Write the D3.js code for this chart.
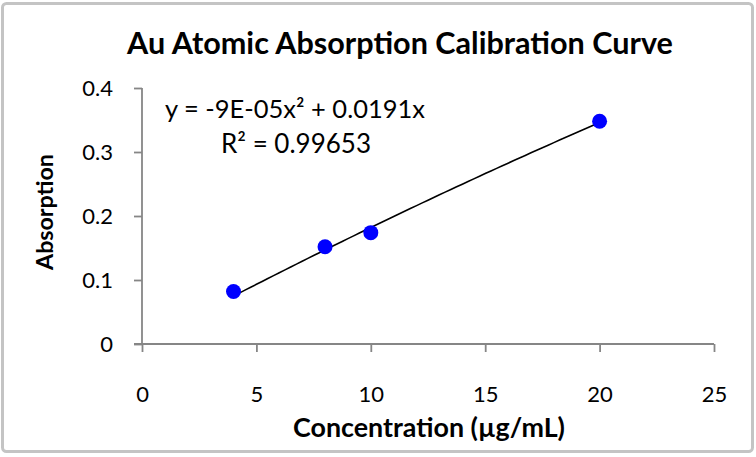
<!DOCTYPE html>
<html>
<head>
<meta charset="utf-8">
<script src="https://cdn.jsdelivr.net/npm/d3@7"></script>
<style>
  html, body { margin: 0; padding: 0; background: #fff; }
  svg { display: block; }
  text { font-family: Lato, "Open Sans", sans-serif; fill: #000; }
</style>
</head>
<body>
<svg id="chart" width="756" height="457"></svg>
<script>
// ---- Data ----
const concentrations = [4, 8, 10, 20];
const absorptions = [0.082, 0.152, 0.174, 0.348];
const xTickValues = [0, 5, 10, 15, 20, 25];
const yTickValues = [0, 0.1, 0.2, 0.3, 0.4];
const trendCoefficients = [-9e-5, 0.0191, 0]; // a x^2 + b x + c
const titleText = "Au Atomic Absorption Calibration Curve";
const xAxisTitle = "Concentration (\u00b5g/mL)";
const yAxisTitle = "Absorption";
const equationLines = ["y = -9E-05x\u00b2 + 0.0191x", "R\u00b2 = 0.99653"];

// ---- Layout ----
const svg = d3.select("#chart");
const plot = { left: 142, right: 714, top: 88, bottom: 344 };
const axisColor = "#868686";

svg.append("rect")
  .attr("x", 2.5).attr("y", 3.5).attr("width", 750).attr("height", 448)
  .attr("rx", 4).attr("fill", "#fff")
  .attr("stroke", "#c4c4c4").attr("stroke-width", 3);

const x = d3.scaleLinear().domain([0, 25]).range([plot.left, plot.right]);
const y = d3.scaleLinear().domain([0, 0.4]).range([plot.bottom, plot.top]);

function fitWidth(sel, w) {
  const node = sel.node();
  const fs = parseFloat(sel.attr("font-size"));
  const len = node.getComputedTextLength();
  sel.attr("font-size", (fs * w / len).toFixed(2));
  return sel;
}

// Title
const title = svg.append("text")
  .attr("x", 400).attr("y", 54)
  .attr("text-anchor", "middle")
  .attr("font-weight", "bold")
  .attr("font-size", 26)
  .text(titleText);
fitWidth(title, 546);

// Axes
const xAxis = d3.axisBottom(x).tickValues(xTickValues).tickSize(8).tickPadding(34)
  .tickFormat(d3.format("d"));
const yAxis = d3.axisLeft(y).tickValues(yTickValues).tickSize(8).tickPadding(21)
  .tickFormat(d => d === 0 ? "0" : d3.format(".1f")(d));

const gx = svg.append("g").attr("transform", `translate(0,${plot.bottom})`).call(xAxis);
const gy = svg.append("g").attr("transform", `translate(${plot.left},0)`).call(yAxis);

[gx, gy].forEach(g => {
  g.select(".domain").attr("stroke", axisColor).attr("stroke-width", 1.8);
  g.selectAll(".tick line").attr("stroke", axisColor).attr("stroke-width", 1.8);
  g.selectAll(".tick text")
    .attr("font-family", "Lato, sans-serif")
    .attr("font-size", 22)
    .attr("fill", "#000");
});
gx.select(".domain").attr("d", `M${plot.left - 8},0H${plot.right}`);
gy.select(".domain").attr("d", `M0,${plot.top}V${plot.bottom}`);
gx.selectAll(".tick text").attr("dy", "0.71em");

// Axis titles
svg.append("text")
  .attr("x", 429).attr("y", 437)
  .attr("text-anchor", "middle")
  .attr("font-weight", "bold")
  .attr("font-size", 21)
  .text(xAxisTitle)
  .call(s => fitWidth(s, 272));

svg.append("text")
  .attr("transform", `translate(53,${(plot.top + plot.bottom) / 2 - 4}) rotate(-90)`)
  .attr("text-anchor", "middle")
  .attr("font-weight", "bold")
  .attr("font-size", 21)
  .text(yAxisTitle)
  .call(s => fitWidth(s, 116));

// Trendline
const trendX = d3.range(concentrations[0], concentrations[concentrations.length - 1] + 0.001, 0.25);
const poly = t => trendCoefficients[0] * t * t + trendCoefficients[1] * t + trendCoefficients[2];
svg.append("path")
  .datum(trendX)
  .attr("fill", "none")
  .attr("stroke", "#000")
  .attr("stroke-width", 1.6)
  .attr("d", d3.line().x(d => x(d)).y(d => y(poly(d))));

// Points
svg.append("g").selectAll("circle")
  .data(concentrations.map((c, i) => ({ c, a: absorptions[i] })))
  .join("circle")
  .attr("cx", d => x(d.c))
  .attr("cy", d => y(d.a))
  .attr("r", 7.5)
  .attr("fill", "#0000ff");

// Equation label
const eq1 = svg.append("text")
  .attr("x", 165).attr("y", 118)
  .attr("font-size", 20)
  .text(equationLines[0]);
fitWidth(eq1, 260);
const eq2 = svg.append("text")
  .attr("x", 221).attr("y", 153)
  .attr("font-size", 20)
  .text(equationLines[1]);
fitWidth(eq2, 150);
</script>
</body>
</html>
